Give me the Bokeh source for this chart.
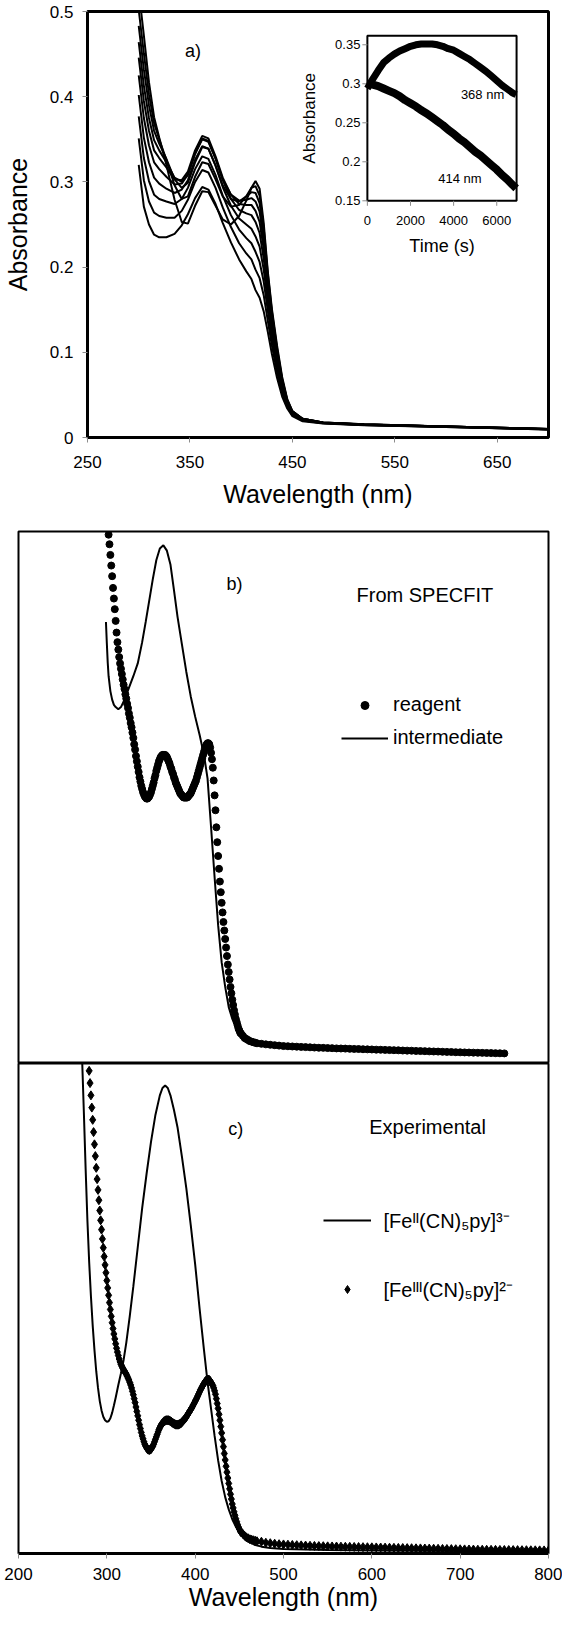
import math
from bokeh.plotting import figure
from bokeh.models import Range1d, FixedTicker, Label, Legend, LegendItem
from bokeh.layouts import column
from bokeh.embed import file_html
from bokeh.resources import INLINE

FONT = "Liberation Sans"

# ---------------- panel a : spectra recorded over time ----------------
a_wavelength = [300, 305, 310, 315, 320, 327, 335, 342, 348, 355, 362, 368, 375, 382, 390, 398,
                405, 410, 414, 418, 422, 426, 430, 435, 440, 445, 450, 460, 480, 520, 600, 700]
a_t0 = [.525, .472, .417, .376, .352, .320, .279, .253, .251, .272, .289, .288, .272, .256, .250, .260,
        .278, .293, .301, .292, .252, .195, .151, .108, .071, .045, .031, .022, .0176, .0155, .013, .010]
a_t1 = [.502, .451, .403, .369, .350, .326, .296, .280, .283, .306, .323, .321, .303, .283, .271, .273,
        .283, .293, .295, .284, .246, .192, .148, .105, .069, .044, .031, .022, .0176, .0155, .013, .010]
a_t2 = [.483, .432, .390, .360, .345, .327, .303, .293, .299, .323, .341, .339, .319, .296, .280, .277,
        .283, .288, .287, .275, .239, .187, .145, .102, .067, .043, .030, .022, .0175, .0154, .013, .010]
a_t3 = [.464, .413, .375, .349, .337, .323, .305, .300, .308, .333, .351, .348, .328, .303, .285, .278,
        .279, .281, .277, .265, .230, .182, .141, .099, .065, .042, .030, .022, .0174, .0153, .013, .010]
a_t4 = [.446, .395, .360, .337, .328, .317, .303, .302, .312, .337, .354, .351, .330, .305, .285, .274,
        .273, .273, .266, .253, .221, .176, .136, .096, .063, .041, .029, .021, .0173, .0152, .0129, .0099]
a_t5 = [.425, .375, .343, .323, .315, .306, .297, .298, .309, .333, .350, .347, .327, .302, .280, .267,
        .263, .261, .253, .240, .210, .168, .131, .092, .061, .040, .029, .021, .0172, .0151, .0128, .0098]
a_t6 = [.402, .352, .323, .305, .298, .292, .287, .291, .302, .326, .342, .339, .319, .294, .272, .257,
        .250, .245, .236, .224, .197, .159, .124, .087, .058, .039, .028, .021, .0170, .0149, .0126, .0097]
a_t7 = [.377, .328, .301, .285, .280, .277, .274, .280, .293, .315, .330, .327, .308, .284, .261, .244,
        .234, .228, .218, .206, .183, .149, .116, .082, .055, .037, .027, .020, .0169, .0148, .0125, .0096]
a_t8 = [.351, .302, .277, .264, .260, .258, .258, .266, .279, .300, .314, .311, .293, .270, .247, .228,
        .216, .209, .197, .187, .167, .137, .108, .077, .052, .036, .026, .020, .0167, .0147, .0124, .0095]
a_t9 = [.320, .271, .250, .238, .235, .235, .239, .249, .262, .281, .294, .291, .274, .252, .229, .209,
        .195, .186, .173, .164, .148, .124, .098, .070, .048, .034, .025, .019, .0165, .0145, .0122, .0094]
a_spectra = [a_t0, a_t1, a_t2, a_t3, a_t4, a_t5, a_t6, a_t7, a_t8, a_t9]
a_x_ticks = [250, 350, 450, 550, 650]
a_y_ticks = [0, 0.1, 0.2, 0.3, 0.4, 0.5]
a_y_tick_labels = ["0", "0.1", "0.2", "0.3", "0.4", "0.5"]

# ---------------- inset : kinetic traces ----------------
inset_time = [0, 250, 500, 750, 1000, 1250, 1500, 1750, 2000, 2250, 2500, 2750, 3000, 3250, 3500,
              3750, 4000, 4250, 4500, 4750, 5000, 5250, 5500, 5750, 6000, 6250, 6500, 6750, 6900]
inset_368 = [.294, .306, .317, .327, .333, .338, .342, .345, .348, .350, .351, .351, .351, .350, .348,
             .345, .343, .339, .335, .331, .326, .321, .316, .310, .304, .298, .293, .288, .286]
inset_414 = [.300, .299, .297, .294, .291, .288, .284, .279, .275, .271, .266, .262, .257, .252, .247,
             .241, .236, .230, .225, .219, .213, .208, .202, .196, .190, .183, .177, .170, .166]
inset_x_ticks = [0, 2000, 4000, 6000]
inset_x_tick_labels = ["0", "2000", "4000", "6000"]
inset_y_ticks = [0.15, 0.2, 0.25, 0.3, 0.35]
inset_y_tick_labels = ["0.15", "0.2", "0.25", "0.3", "0.35"]

# ---------------- panel b : SPECFIT spectra ----------------
b_reagent_wl = [*range(302, 453), *range(454, 471, 2), *range(475, 751, 5)]
b_reagent = [
    .497, .488, .478, .468, .458, .447, .437, .427, .416, .405,   # 302-311
    .396, .389, .382, .376, .371, .366, .361, .356, .352, .347,   # 312-321
    .343, .338, .334, .329, .325, .320, .316, .311, .306, .300,   # 322-331
    .295, .289, .284, .279, .274, .269, .265, .261, .258, .255,   # 332-341
    .253, .251, .250, .249, .249, .250, .251, .253, .255, .258,   # 342-351
    .261, .264, .268, .271, .275, .278, .281, .284, .286, .288,   # 352-361
    .289, .290, .290, .290, .290, .289, .288, .286, .284, .282,   # 362-371
    .279, .277, .274, .272, .269, .267, .264, .262, .260, .258,   # 372-381
    .256, .254, .253, .252, .251, .250, .250, .250, .250, .250,   # 382-391
    .251, .252, .253, .254, .256, .258, .260, .262, .264, .266,   # 392-401
    .269, .272, .275, .278, .281, .284, .287, .290, .293, .296,   # 402-411
    .298, .300, .301, .301, .300, .297, .292, .286, .278, .266,   # 412-421
    .252, .238, .222, .208, .195, .183, .171, .161, .151, .142,   # 422-431
    .133, .125, .117, .109, .101, .093, .086, .079, .072, .066,   # 432-441
    .060, .055, .050, .046, .042, .039, .036, .033, .031, .029,   # 442-451
    .028,                                                         # 452
    .026, .024, .023, .022, .021, .0205, .020, .0195, .019,       # 454-470
    .0185, .018, .0176, .0172, .0168, .0164, .0162, .016, .0158, .0156,
    .0154, .0152, .015, .0148, .0147, .0145, .0144, .0142, .0141, .014,
    .0138, .0137, .0136, .0134, .0133, .0132, .013, .0129, .0128, .0126,
    .0125, .0124, .0122, .0121, .012, .0118, .0117, .0116, .0114, .0113,
    .0112, .011, .0109, .0108, .0106, .0105, .0104, .0103, .0102, .0101,
    .01, .0099, .0098, .0097, .0096, .0095]
b_inter_wl = [299, 300, 301, 302, 304, 306, 308, 310, 313, 316, 320, 325, 330, 335, 340, 344, 348, 352,
              356, 360, 364, 368, 372, 376, 380, 385, 390, 395, 400, 405, 410, 414, 418, 422, 426, 430,
              434, 438, 442, 446, 450, 460, 480, 520, 600, 700, 750]
b_inter = [.415, .395, .377, .364, .350, .342, .337, .335, .333, .335, .342, .353, .364, .376, .396, .415,
           .435, .455, .473, .484, .487, .482, .469, .445, .420, .394, .368, .345, .326, .309, .290, .268,
           .222, .175, .130, .095, .072, .053, .042, .035, .030, .022, .0176, .0155, .013, .0105, .0095]

# ---------------- panel c : experimental spectra ----------------
c_fe2_wl = [268, 270, 272, 274, 276, 278, 280, 282, 284, 286, 288, 290, 292, 294, 296, 298, 300, 302,
            304, 306, 308, 310, 313, 316, 319, 322, 326, 330, 335, 340, 345, 350, 355, 360, 363, 366,
            369, 372, 376, 380, 385, 390, 395, 400, 405, 410, 414, 418, 422, 426, 430, 434, 438, 442,
            446, 450, 455, 460, 467, 475, 485, 500, 550, 600, 700, 800]
c_fe2 = [1.15, 1.08, 1.01, .90, .785, .68, .595, .525, .465, .415, .372, .338, .311, .292, .279, .272,
         .269, .270, .276, .287, .302, .318, .344, .368, .395, .43, .485, .545, .625, .705, .775, .84,
         .895, .935, .95, .955, .95, .935, .905, .87, .81, .745, .67, .59, .50, .415, .35, .295, .24,
         .19, .148, .115, .09, .07, .055, .043, .032, .025, .018, .014, .011, .009, .007, .006, .005, .004]
c_fe3_wl = [*range(280, 453), *range(454, 471, 2), *range(475, 801, 5)]
c_fe3 = [
    .985, .960, .935, .910, .885, .860, .835, .811, .787, .764,   # 280-289
    .742, .721, .700, .680, .661, .642, .624, .606, .589, .573,   # 290-299
    .557, .542, .527, .512, .498, .484, .471, .459, .448, .438,   # 300-309
    .428, .419, .411, .404, .397, .391, .386, .382, .378, .375,   # 310-319
    .372, .369, .366, .362, .358, .354, .349, .344, .338, .331,   # 320-329
    .324, .316, .308, .299, .290, .281, .272, .263, .255, .247,   # 330-339
    .240, .234, .228, .223, .219, .216, .213, .212, .211, .212,   # 340-349
    .213, .216, .219, .223, .228, .233, .238, .243, .248, .253,   # 350-359
    .257, .261, .264, .266, .268, .270, .271, .272, .272, .272,   # 360-369
    .272, .271, .270, .269, .267, .266, .265, .264, .263, .263,   # 370-379
    .263, .263, .264, .265, .266, .268, .270, .272, .274, .276,   # 380-389
    .279, .282, .285, .288, .291, .294, .297, .300, .304, .307,   # 390-399
    .311, .314, .318, .322, .326, .330, .334, .337, .341, .344,   # 400-409
    .347, .350, .352, .354, .355, .355, .354, .352, .349, .346,   # 410-419
    .343, .338, .332, .325, .316, .306, .296, .284, .272, .259,   # 420-429
    .246, .232, .218, .204, .191, .178, .166, .154, .143, .132,   # 430-439
    .121, .111, .101, .093, .085, .078, .071, .065, .059, .054,   # 440-449
    .050, .046, .043,                                             # 450-452
    .040, .036, .033, .031, .029, .028, .027, .026, .025,         # 454-470
    .024, .022, .021, .020, .019, .0185, .018, .0175, .017, .0166,
    .0162, .0158, .0155, .0152, .0149, .0146, .0144, .0142, .014, .0138,
    .0136, .0134, .0132, .013, .0128, .0126, .0124, .0122, .012, .0118,
    .0116, .0114, .0112, .011, .0108, .0106, .0104, .0102, .01, .0098,
    .0096, .0094, .0092, .009, .0088, .0086, .0084, .0082, .008, .0078,
    .0077, .0076, .0075, .0074, .0073, .0072, .0071, .007, .0069, .0068,
    .0067, .0066, .0065, .0064, .0063, .0062]
c_x_ticks = [200, 300, 400, 500, 600, 700, 800]

for xs, ys in [(b_reagent_wl, b_reagent), (b_inter_wl, b_inter), (c_fe2_wl, c_fe2), (c_fe3_wl, c_fe3),
               (inset_time, inset_368), (inset_time, inset_414)] + [(a_wavelength, s) for s in a_spectra]:
    if len(xs) != len(ys):
        raise ValueError("length mismatch %d %d" % (len(xs), len(ys)))

# ---------------- layout constants ----------------
PAGE_W = 562
A_BORDER = dict(left=83, right=14, top=11, bottom=90)
A_FRAME_W, A_FRAME_H = 465, 426
INSET_LEFT, INSET_RIGHT, INSET_TOP, INSET_BOTTOM = 282.3, 432.8, 24.3, 189.3   # px inside frame a
inset_x_lim = (0, 6920)
inset_y_lim = (0.15, 0.3615)
TICK_GRAY = "#8c8c8c"


def style_axis(ax, tick_size, title_size, tick_standoff, title_standoff, line_width=3):
    ax.axis_line_color = "black"
    ax.axis_line_width = line_width
    ax.major_tick_line_color = TICK_GRAY
    ax.major_tick_line_width = 1
    ax.major_tick_out = 5
    ax.major_tick_in = 0
    ax.minor_tick_line_color = None
    ax.major_label_text_font = FONT
    ax.major_label_text_font_size = "%dpx" % tick_size
    ax.major_label_text_color = "black"
    ax.major_label_standoff = tick_standoff
    ax.axis_label_text_font = FONT
    ax.axis_label_text_font_size = "%dpx" % title_size
    ax.axis_label_text_font_style = "normal"
    ax.axis_label_text_color = "black"
    ax.axis_label_standoff = title_standoff


def label(p, x, y, text, size, align="center", baseline="middle", **kw):
    p.add_layout(Label(x=x, y=y, text=text, text_font=FONT, text_font_size="%dpx" % size,
                       text_align=align, text_baseline=baseline, text_color="black", **kw))


def base_figure(**kw):
    p = figure(output_backend="svg", toolbar_location=None,
               background_fill_color="white", border_fill_color="white", **kw)
    p.frame_align = False
    p.xgrid.visible = False
    p.ygrid.visible = False
    p.outline_line_color = "black"
    return p


def legend(items, **kw):
    return Legend(items=items, glyph_height=20, label_height=20, padding=0, margin=0,
                  border_line_color=None, background_fill_alpha=0, label_text_font=FONT,
                  label_text_font_size="20px", label_text_color="black", **kw)


# ---------------- panel a ----------------
pa = base_figure(width=PAGE_W, height=A_BORDER["top"] + A_FRAME_H + A_BORDER["bottom"],
                 x_range=Range1d(250, 700), y_range=Range1d(0, 0.5),
                 min_border_left=A_BORDER["left"], min_border_right=A_BORDER["right"],
                 min_border_top=A_BORDER["top"], min_border_bottom=A_BORDER["bottom"])
pa.outline_line_width = 3
pa.xaxis.ticker = FixedTicker(ticks=a_x_ticks)
pa.yaxis.ticker = FixedTicker(ticks=a_y_ticks)
pa.yaxis.major_label_overrides = {float(t): s for t, s in zip(a_y_ticks, a_y_tick_labels)}
pa.xaxis.axis_label = "Wavelength (nm)"
pa.yaxis.axis_label = "Absorbance"
style_axis(pa.xaxis[0], 17, 25, 13, 9)
style_axis(pa.yaxis[0], 17, 25, 9, 15)

for spec in a_spectra:
    pa.line(a_wavelength, spec, line_color="black", line_width=2)
label(pa, 353, 0.454, "a)", 18)

# inset drawn on extra ranges of panel a
sxp = (inset_x_lim[1] - inset_x_lim[0]) / (INSET_RIGHT - INSET_LEFT)
syp = (inset_y_lim[1] - inset_y_lim[0]) / (INSET_BOTTOM - INSET_TOP)
pa.extra_x_ranges = {"tx": Range1d(inset_x_lim[0] - INSET_LEFT * sxp,
                                   inset_x_lim[1] + (A_FRAME_W - INSET_RIGHT) * sxp)}
pa.extra_y_ranges = {"ty": Range1d(inset_y_lim[0] - (A_FRAME_H - INSET_BOTTOM) * syp,
                                   inset_y_lim[1] + INSET_TOP * syp)}
IN = dict(x_range_name="tx", y_range_name="ty")
pa.quad(left=[inset_x_lim[0]], right=[inset_x_lim[1]], bottom=[inset_y_lim[0]], top=[inset_y_lim[1]],
        fill_color="white", line_color="black", line_width=2, **IN)
pa.ray(x=[inset_x_lim[0]] * len(inset_y_ticks), y=inset_y_ticks, length=5, length_units="screen",
       angle=math.pi, line_color=TICK_GRAY, line_width=1, **IN)
pa.ray(x=inset_x_ticks, y=[inset_y_lim[0]] * len(inset_x_ticks), length=5, length_units="screen",
       angle=-math.pi / 2, line_color=TICK_GRAY, line_width=1, **IN)
for t, s in zip(inset_y_ticks, inset_y_tick_labels):
    label(pa, inset_x_lim[0], t, s, 13, align="right", x_offset=-7, **IN)
for t, s in zip(inset_x_ticks, inset_x_tick_labels):
    label(pa, t, inset_y_lim[0], s, 13, y_offset=-20, **IN)
label(pa, (inset_x_lim[0] + inset_x_lim[1]) / 2, inset_y_lim[0], "Time (s)", 18, y_offset=-45, **IN)
label(pa, inset_x_lim[0], (inset_y_lim[0] + inset_y_lim[1]) / 2, "Absorbance", 17,
      x_offset=-58, angle=math.pi / 2, **IN)
pa.line(inset_time, inset_368, line_color="black", line_width=7, **IN)
pa.line(inset_time, inset_414, line_color="black", line_width=8, **IN)
label(pa, 5343, 0.2866, "368 nm", 13, **IN)
label(pa, 4294, 0.1786, "414 nm", 13, **IN)

# ---------------- panel b ----------------
pb = base_figure(width=PAGE_W, height=536, x_range=Range1d(200, 800), y_range=Range1d(0, 0.5),
                 x_axis_location=None, y_axis_location=None,
                 min_border_left=18, min_border_right=14, min_border_top=4, min_border_bottom=0)
pb.outline_line_width = 2
r_inter = pb.line(b_inter_wl, b_inter, line_color="black", line_width=2)
r_reag = pb.scatter(b_reagent_wl, b_reagent, marker="circle", size=7, color="black")
label(pb, 444.5, 0.4506, "b)", 18)
label(pb, 582.7, 0.44, "From SPECFIT", 20, align="left")
pb.add_layout(legend([LegendItem(label="reagent", renderers=[r_reag]),
                      LegendItem(label="intermediate", renderers=[r_inter])],
                     location=(323, 314), glyph_width=47, spacing=10, label_standoff=5))

# ---------------- panel c ----------------
pc = base_figure(width=PAGE_W, height=550, x_range=Range1d(200, 800), y_range=Range1d(0, 1),
                 y_axis_location=None,
                 min_border_left=18, min_border_right=14, min_border_top=0, min_border_bottom=59)
pc.outline_line_width = 2
pc.xaxis.ticker = FixedTicker(ticks=c_x_ticks)
pc.xaxis.axis_label = "Wavelength (nm)"
style_axis(pc.xaxis[0], 17, 25, 9, 0)
r_fe2 = pc.line(c_fe2_wl, c_fe2, line_color="black", line_width=2)
r_fe3 = pc.scatter(c_fe3_wl, c_fe3, marker="diamond", size=9, color="black")
label(pc, 445.8, 0.866, "c)", 18)
label(pc, 597, 0.870, "Experimental", 20, align="left")
pc.add_layout(legend([LegendItem(label="[Fe\u1d35\u1d35(CN)\u2085py]\u00b3\u207b", renderers=[r_fe2]),
                      LegendItem(label="[Fe\u1d35\u1d35\u1d35(CN)\u2085py]\u00b2\u207b", renderers=[r_fe3])],
                     location=(304.5, 250.3), glyph_width=48, spacing=42, label_standoff=13))

layout = column(pa, pb, pc)
open("out.html", "w").write(file_html(layout, INLINE, title="Spectra"))
